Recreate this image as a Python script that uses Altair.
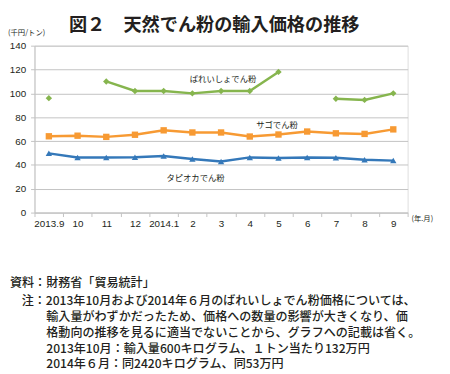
import altair as alt
import pandas as pd

# ---- data ----
months = ["2013.9", "10", "11", "12", "2014.1", "2", "3", "4", "5", "6", "7", "8", "9"]
potato = [96, None, 110, 102, 102, 100, 102, 102, 118, None, 95.5, 94.5, 100]
sago = [64, 64.5, 63.5, 65.3, 69, 67.2, 67.2, 63.8, 65.5, 68, 66.5, 66, 69.8]
tapioca = [49.7, 46.3, 46.3, 46.5, 47.5, 45, 42.8, 46.3, 45.8, 46.3, 46, 44.4, 43.6]
series_names = ["ばれいしょでん粉", "サゴでん粉", "タピオカでん粉"]
series_colors = ["#86b54e", "#f79a33", "#3478b9"]
series_shapes = ["diamond", "square", "triangle-up"]

title_text = "図２　天然でん粉の輸入価格の推移"
unit_text = "(千円/トン)"
xunit_text = "(年.月)"
note_lines = [
    "資料：財務省「貿易統計」",
    "注：2013年10月および2014年６月のばれいしょでん粉価格については、",
    "輸入量がわずかだったため、価格への数量の影響が大きくなり、価",
    "格動向の推移を見るに適当でないことから、グラフへの記載は省く。",
    "2013年10月：輸入量600キログラム、１トン当たり132万円",
    "2014年６月：同2420キログラム、同53万円",
]

rows = []
for name, vals in zip(series_names, [potato, sago, tapioca]):
    seg = 0
    for m, v in zip(months, vals):
        if v is None:
            seg += 1
            continue
        rows.append({"month": m, "value": v, "series": name, "seg": f"{name}-{seg}"})
df = pd.DataFrame(rows)

FONT_JP = "Noto Sans CJK JP"
FONT_NUM = "'Liberation Sans', Arial, sans-serif"
TXT = "#231f20"
GRID = "#c3c3c3"

x_enc = alt.X("month:N", sort=months, scale=alt.Scale(domain=months, paddingInner=0, paddingOuter=0),
              axis=alt.Axis(title=None, labelAngle=0, tickBand="extent", grid=False,
                            domainColor=GRID, tickColor=GRID, tickSize=4, labelPadding=2,
                            labelFont=FONT_NUM, labelFontSize=10, labelColor=TXT))
y_enc = alt.Y("value:Q", scale=alt.Scale(domain=[0, 140], nice=False),
              axis=alt.Axis(title=None, values=[0, 20, 40, 60, 80, 100, 120, 140],
                            grid=True, gridColor=GRID, domainColor=GRID, tickColor=GRID,
                            tickSize=4, labelPadding=5, labelFont=FONT_NUM,
                            labelFontSize=10, labelColor=TXT))
color_enc = alt.Color("series:N", scale=alt.Scale(domain=series_names, range=series_colors), legend=None)

base = alt.Chart(df)
lines = base.mark_line(strokeWidth=2.5).encode(x=x_enc, y=y_enc, color=color_enc, detail="seg:N")
points = base.mark_point(filled=True, opacity=1, size=42).encode(
    x=x_enc, y=y_enc, color=color_enc,
    shape=alt.Shape("series:N", scale=alt.Scale(domain=series_names, range=series_shapes), legend=None))

one = pd.DataFrame({"k": [0]})

def label(text, x, y, size, align="center", weight="normal", font=FONT_JP, baseline="middle"):
    return alt.Chart(one).mark_text(text=text, align=align, baseline=baseline, fontSize=size,
                                    fontWeight=weight, font=font, color=TXT).encode(
        x=alt.value(x), y=alt.value(y))

layers = [lines, points,
          label(title_text, 183, -21.2, 18.5, weight="bold"),
          label(unit_text, -27, -13, 7.5, align="left"),
          label(xunit_text, 406, 177, 7.5, align="right"),
          label(series_names[0], 192, 34, 8.5),
          label(series_names[1], 247, 81, 8.5),
          label(series_names[2], 164, 135, 8.5),
          label(note_lines[0], -25, 242, 12.3, align="left", weight=500),
          label(note_lines[1], -13, 260, 12.3, align="left", weight=500),
          label(note_lines[2], 12, 276.3, 12.3, align="left", weight=500),
          label(note_lines[3], 12, 292.7, 12.3, align="left", weight=500),
          label(note_lines[4], 12, 308.7, 12.3, align="left", weight=500),
          label(note_lines[5], 12, 324.7, 12.3, align="left", weight=500),
          ]

chart = alt.layer(*layers).properties(
    width=380, height=170,
    autosize=alt.AutoSizeParams(type="none"),
    padding={"left": 27, "top": 35, "right": 35, "bottom": 161},
).configure_view(stroke=None).configure(background="white")

chart.save("out.html", embed_options={"renderer": "svg", "actions": False})
